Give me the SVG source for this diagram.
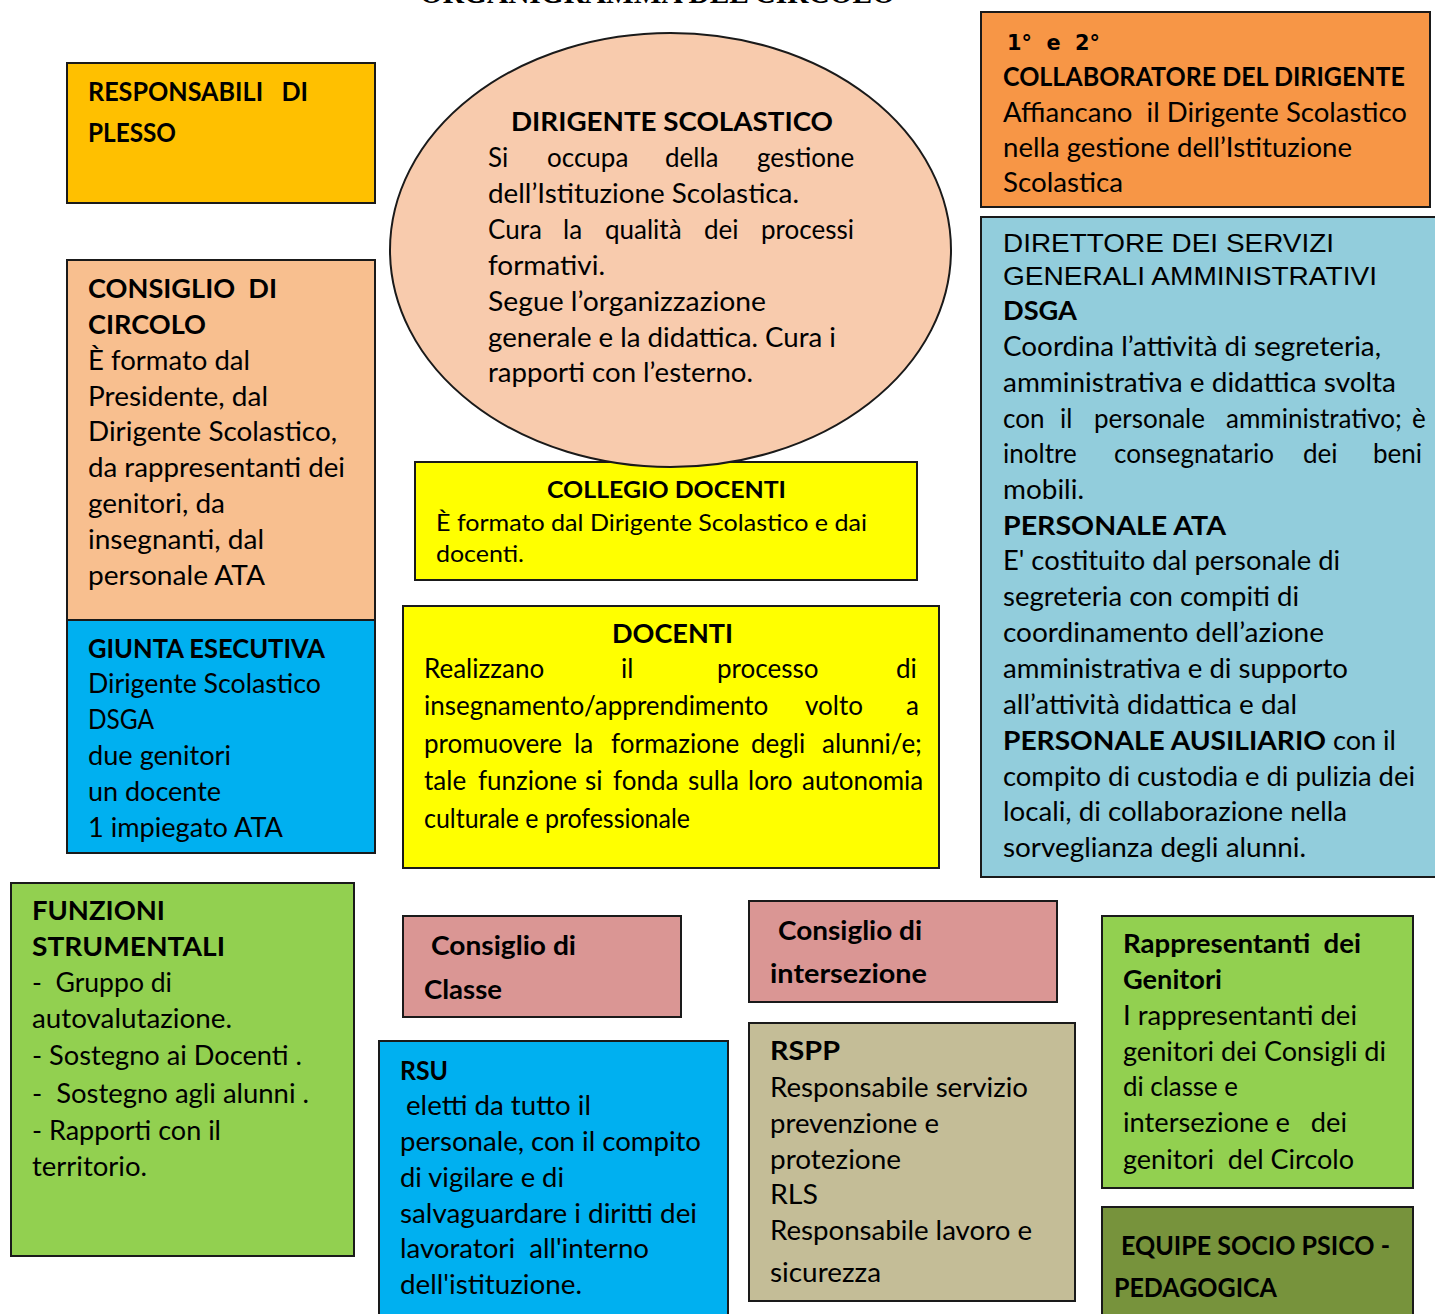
<svg xmlns="http://www.w3.org/2000/svg" width="1435" height="1314" viewBox="0 0 1435 1314">
<style>
.box{stroke:#1a1a1a;stroke-width:2}
text{font-family:Lato,"Noto Sans",sans-serif;font-size:26px;fill:#000;white-space:pre}
.b{font-weight:bold}
.ar{font-family:"Liberation Sans",Arial,sans-serif}
.sm{font-size:23px}
</style>
<rect width="1435" height="1314" fill="#fff"/>
<text x="420" y="3" style="font-family:'Liberation Serif',serif;font-weight:bold;font-size:30px" textLength="475" lengthAdjust="spacingAndGlyphs">ORGANIGRAMMA DEL CIRCOLO</text>

<g id="responsabili-plesso">
<rect class="box" x="67" y="63" width="308" height="140" fill="#FFC000"/>
<text class="b" x="88" y="101" font-size="24" textLength="220" lengthAdjust="spacingAndGlyphs">RESPONSABILI   DI</text>
<text class="b" x="88" y="142" font-size="24" textLength="88" lengthAdjust="spacingAndGlyphs">PLESSO</text>
</g>

<g id="collegio-docenti">
<rect class="box" x="415" y="462" width="502" height="118" fill="#FFFF00"/>
<text class="b sm" x="547" y="498" textLength="239" lengthAdjust="spacingAndGlyphs">COLLEGIO DOCENTI</text>
<text class="sm" x="436" y="531" textLength="431" lengthAdjust="spacingAndGlyphs">È formato dal Dirigente Scolastico e dai</text>
<text class="sm" x="436" y="562" textLength="88" lengthAdjust="spacingAndGlyphs">docenti.</text>
</g>

<g id="dirigente-scolastico">
<ellipse class="box" cx="670.5" cy="250" rx="280.5" ry="217" fill="#F8CBAD"/>
<text class="b" x="511" y="131" textLength="322" lengthAdjust="spacingAndGlyphs">DIRIGENTE SCOLASTICO</text>
<text y="167"><tspan x="488">Si</tspan><tspan x="547">occupa</tspan><tspan x="665">della</tspan><tspan x="757">gestione</tspan></text>
<text x="488" y="203" textLength="311" lengthAdjust="spacingAndGlyphs">dell’Istituzione Scolastica.</text>
<text y="239"><tspan x="488">Cura</tspan><tspan x="563">la</tspan><tspan x="605">qualità</tspan><tspan x="704">dei</tspan><tspan x="761">processi</tspan></text>
<text x="488" y="275" textLength="117" lengthAdjust="spacingAndGlyphs">formativi.</text>
<text x="488" y="311" textLength="278" lengthAdjust="spacingAndGlyphs">Segue l’organizzazione</text>
<text x="488" y="347" textLength="348" lengthAdjust="spacingAndGlyphs">generale e la didattica. Cura i</text>
<text x="488" y="382" textLength="265" lengthAdjust="spacingAndGlyphs">rapporti con l’esterno.</text>
</g>

<g id="collaboratori">
<rect class="box" x="981" y="12" width="449" height="195" fill="#F79646"/>
<text class="b" x="1007" y="50" style="font-family:'DejaVu Sans',sans-serif;font-size:22px" textLength="93" lengthAdjust="spacingAndGlyphs">1°  e  2°</text>
<text class="b" x="1003" y="86" textLength="402" lengthAdjust="spacingAndGlyphs">COLLABORATORE DEL DIRIGENTE</text>
<text x="1003" y="122" textLength="404" lengthAdjust="spacingAndGlyphs">Affiancano  il Dirigente Scolastico</text>
<text x="1003" y="157" textLength="349" lengthAdjust="spacingAndGlyphs">nella gestione dell’Istituzione</text>
<text x="1003" y="192" textLength="120" lengthAdjust="spacingAndGlyphs">Scolastica</text>
</g>

<g id="dsga">
<rect class="box" x="981" y="217" width="470" height="660" fill="#92CDDC"/>
<text class="ar" x="1003" y="252" textLength="331" lengthAdjust="spacingAndGlyphs">DIRETTORE DEI SERVIZI</text>
<text class="ar" x="1003" y="285" textLength="374" lengthAdjust="spacingAndGlyphs">GENERALI AMMINISTRATIVI</text>
<text class="b" x="1003" y="320" textLength="74" lengthAdjust="spacingAndGlyphs">DSGA</text>
<text x="1003" y="356" textLength="378" lengthAdjust="spacingAndGlyphs">Coordina l’attività di segreteria,</text>
<text x="1003" y="392" textLength="393" lengthAdjust="spacingAndGlyphs">amministrativa e didattica svolta</text>
<text y="428"><tspan x="1003">con</tspan><tspan x="1060">il</tspan><tspan x="1094">personale</tspan><tspan x="1226">amministrativo;</tspan><tspan x="1412">è</tspan></text>
<text y="463"><tspan x="1003">inoltre</tspan><tspan x="1114">consegnatario</tspan><tspan x="1303">dei</tspan><tspan x="1373">beni</tspan></text>
<text x="1003" y="499" textLength="81" lengthAdjust="spacingAndGlyphs">mobili.</text>
<text class="b" x="1003" y="535" textLength="223" lengthAdjust="spacingAndGlyphs">PERSONALE ATA</text>
<text x="1003" y="570" textLength="337" lengthAdjust="spacingAndGlyphs">E' costituito dal personale di</text>
<text x="1003" y="606" textLength="296" lengthAdjust="spacingAndGlyphs">segreteria con compiti di</text>
<text x="1003" y="642" textLength="321" lengthAdjust="spacingAndGlyphs">coordinamento dell’azione</text>
<text x="1003" y="678" textLength="345" lengthAdjust="spacingAndGlyphs">amministrativa e di supporto</text>
<text x="1003" y="714" textLength="294" lengthAdjust="spacingAndGlyphs">all’attività didattica e dal</text>
<text y="750"><tspan class="b" x="1003" textLength="323" lengthAdjust="spacingAndGlyphs">PERSONALE AUSILIARIO</tspan><tspan x="1333" textLength="63" lengthAdjust="spacingAndGlyphs">con il</tspan></text>
<text x="1003" y="786" textLength="412" lengthAdjust="spacingAndGlyphs">compito di custodia e di pulizia dei</text>
<text x="1003" y="821" textLength="344" lengthAdjust="spacingAndGlyphs">locali, di collaborazione nella</text>
<text x="1003" y="857" textLength="303" lengthAdjust="spacingAndGlyphs">sorveglianza degli alunni.</text>
</g>

<g id="consiglio-circolo">
<rect class="box" x="67" y="260" width="308" height="360" fill="#F8BF8F"/>
<text class="b" x="88" y="298" textLength="189" lengthAdjust="spacingAndGlyphs">CONSIGLIO  DI</text>
<text class="b" x="88" y="334" textLength="118" lengthAdjust="spacingAndGlyphs">CIRCOLO</text>
<text x="88" y="370" textLength="162" lengthAdjust="spacingAndGlyphs">È formato dal</text>
<text x="88" y="406" textLength="180" lengthAdjust="spacingAndGlyphs">Presidente, dal</text>
<text x="88" y="441" textLength="249" lengthAdjust="spacingAndGlyphs">Dirigente Scolastico,</text>
<text x="88" y="477" textLength="257" lengthAdjust="spacingAndGlyphs">da rappresentanti dei</text>
<text x="88" y="513" textLength="137" lengthAdjust="spacingAndGlyphs">genitori, da</text>
<text x="88" y="549" textLength="176" lengthAdjust="spacingAndGlyphs">insegnanti, dal</text>
<text x="88" y="585" textLength="177" lengthAdjust="spacingAndGlyphs">personale ATA</text>
</g>

<g id="giunta-esecutiva">
<rect class="box" x="67" y="620" width="308" height="233" fill="#00B0F0"/>
<text class="b" x="88" y="658" textLength="237" lengthAdjust="spacingAndGlyphs">GIUNTA ESECUTIVA</text>
<text x="88" y="693" textLength="233" lengthAdjust="spacingAndGlyphs">Dirigente Scolastico</text>
<text x="88" y="729" textLength="66" lengthAdjust="spacingAndGlyphs">DSGA</text>
<text x="88" y="765" textLength="143" lengthAdjust="spacingAndGlyphs">due genitori</text>
<text x="88" y="801" textLength="133" lengthAdjust="spacingAndGlyphs">un docente</text>
<text x="88" y="837" textLength="195" lengthAdjust="spacingAndGlyphs">1 impiegato ATA</text>
</g>

<g id="docenti">
<rect class="box" x="403" y="606" width="536" height="262" fill="#FFFF00"/>
<text class="b" x="612" y="643" textLength="121" lengthAdjust="spacingAndGlyphs">DOCENTI</text>
<text y="678" font-size="23"><tspan x="424">Realizzano</tspan><tspan x="621">il</tspan><tspan x="717">processo</tspan><tspan x="896">di</tspan></text>
<text y="715" font-size="23"><tspan x="424">insegnamento/apprendimento</tspan><tspan x="805">volto</tspan><tspan x="906">a</tspan></text>
<text y="753" font-size="23"><tspan x="424">promuovere</tspan><tspan x="574">la</tspan><tspan x="611">formazione</tspan><tspan x="751">degli</tspan><tspan x="822">alunni/e;</tspan></text>
<text y="790" font-size="23"><tspan x="424">tale</tspan><tspan x="478">funzione</tspan><tspan x="585">si</tspan><tspan x="613">fonda</tspan><tspan x="688">sulla</tspan><tspan x="748">loro</tspan><tspan x="802">autonomia</tspan></text>
<text x="424" y="828" font-size="23" textLength="266" lengthAdjust="spacingAndGlyphs">culturale e professionale</text>
</g>

<g id="funzioni-strumentali">
<rect class="box" x="11" y="883" width="343" height="373" fill="#92D050"/>
<text class="b" x="32" y="920" textLength="133" lengthAdjust="spacingAndGlyphs">FUNZIONI</text>
<text class="b" x="32" y="956" textLength="193" lengthAdjust="spacingAndGlyphs">STRUMENTALI</text>
<text x="32" y="992" textLength="140" lengthAdjust="spacingAndGlyphs">-  Gruppo di</text>
<text x="32" y="1028" textLength="200" lengthAdjust="spacingAndGlyphs">autovalutazione.</text>
<text x="32" y="1065" textLength="270" lengthAdjust="spacingAndGlyphs">- Sostegno ai Docenti .</text>
<text x="32" y="1103" textLength="277" lengthAdjust="spacingAndGlyphs">-  Sostegno agli alunni .</text>
<text x="32" y="1140" textLength="189" lengthAdjust="spacingAndGlyphs">- Rapporti con il</text>
<text x="32" y="1176" textLength="115" lengthAdjust="spacingAndGlyphs">territorio.</text>
</g>

<g id="consiglio-classe">
<rect class="box" x="403" y="916" width="278" height="101" fill="#DA9694"/>
<text class="b" x="431" y="955" textLength="145" lengthAdjust="spacingAndGlyphs">Consiglio di</text>
<text class="b" x="424" y="999" textLength="78" lengthAdjust="spacingAndGlyphs">Classe</text>
</g>

<g id="rsu">
<rect class="box" x="379" y="1041" width="349" height="290" fill="#00B0F0"/>
<text class="b" x="400" y="1080" textLength="48" lengthAdjust="spacingAndGlyphs">RSU</text>
<text x="406" y="1115" textLength="185" lengthAdjust="spacingAndGlyphs">eletti da tutto il</text>
<text x="400" y="1151" textLength="301" lengthAdjust="spacingAndGlyphs">personale, con il compito</text>
<text x="400" y="1187" textLength="164" lengthAdjust="spacingAndGlyphs">di vigilare e di</text>
<text x="400" y="1223" textLength="297" lengthAdjust="spacingAndGlyphs">salvaguardare i diritti dei</text>
<text x="400" y="1258" textLength="249" lengthAdjust="spacingAndGlyphs">lavoratori  all'interno</text>
<text x="400" y="1294" textLength="182" lengthAdjust="spacingAndGlyphs">dell'istituzione.</text>
</g>

<g id="consiglio-intersezione">
<rect class="box" x="749" y="901" width="308" height="101" fill="#DA9694"/>
<text class="b" x="778" y="940" textLength="144" lengthAdjust="spacingAndGlyphs">Consiglio di</text>
<text class="b" x="770" y="983" textLength="157" lengthAdjust="spacingAndGlyphs">intersezione</text>
</g>

<g id="rspp">
<rect class="box" x="749" y="1023" width="326" height="278" fill="#C4BD97"/>
<text class="b" x="770" y="1060" textLength="70" lengthAdjust="spacingAndGlyphs">RSPP</text>
<text x="770" y="1097" textLength="258" lengthAdjust="spacingAndGlyphs">Responsabile servizio</text>
<text x="770" y="1133" textLength="169" lengthAdjust="spacingAndGlyphs">prevenzione e</text>
<text x="770" y="1169" textLength="131" lengthAdjust="spacingAndGlyphs">protezione</text>
<text x="770" y="1204" textLength="48" lengthAdjust="spacingAndGlyphs">RLS</text>
<text x="770" y="1240" textLength="262" lengthAdjust="spacingAndGlyphs">Responsabile lavoro e</text>
<text x="770" y="1282" textLength="111" lengthAdjust="spacingAndGlyphs">sicurezza</text>
</g>

<g id="rappresentanti-genitori">
<rect class="box" x="1102" y="916" width="311" height="272" fill="#92D050"/>
<text class="b" x="1123" y="953" textLength="238" lengthAdjust="spacingAndGlyphs">Rappresentanti  dei</text>
<text class="b" x="1123" y="989" textLength="99" lengthAdjust="spacingAndGlyphs">Genitori</text>
<text x="1123" y="1025" textLength="234" lengthAdjust="spacingAndGlyphs">I rappresentanti dei</text>
<text x="1123" y="1061" textLength="263" lengthAdjust="spacingAndGlyphs">genitori dei Consigli di</text>
<text x="1123" y="1096" textLength="115" lengthAdjust="spacingAndGlyphs">di classe e</text>
<text x="1123" y="1132" textLength="224" lengthAdjust="spacingAndGlyphs">intersezione e   dei</text>
<text x="1123" y="1169" textLength="231" lengthAdjust="spacingAndGlyphs">genitori  del Circolo</text>
</g>

<g id="equipe-socio-psico-pedagogica">
<rect class="box" x="1102" y="1207" width="311" height="130" fill="#77933C"/>
<text class="b" x="1121" y="1255" textLength="269" lengthAdjust="spacingAndGlyphs">EQUIPE SOCIO PSICO -</text>
<text class="b" x="1114" y="1297" textLength="163" lengthAdjust="spacingAndGlyphs">PEDAGOGICA</text>
</g>

<g id="connectors"></g>
</svg>
